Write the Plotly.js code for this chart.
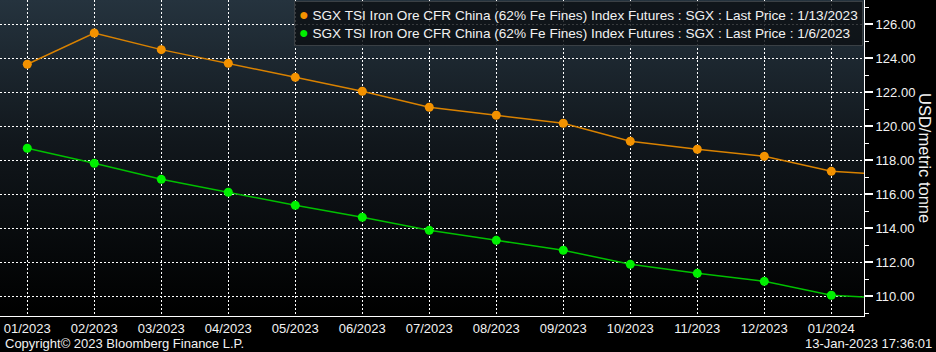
<!DOCTYPE html>
<html>
<head>
<meta charset="utf-8">
<script src="https://cdn.plot.ly/plotly-3.0.1.min.js"></script>
<style>
  html, body { margin:0; padding:0; background:#000; }
  #wrap { position:relative; width:936px; height:352px; background:#000; overflow:hidden; }
  #bg { position:absolute; left:0; top:0; width:864px; height:316px;
        background:linear-gradient(to bottom, #25333e 0%, #11171c 45%, #000 100%); }
  #chart { position:absolute; left:0; top:0; width:936px; height:352px; }
</style>
</head>
<body>
<div id="wrap"><div id="bg"></div><div id="chart"></div></div>
<script>
const months = ["01/2023","02/2023","03/2023","04/2023","05/2023","06/2023","07/2023",
                "08/2023","09/2023","10/2023","11/2023","12/2023","01/2024","02/2024"];
const price_0113 = [123.65,125.49,124.51,123.71,122.88,122.06,121.12,120.65,120.18,119.12,118.65,118.24,117.35,117.12];
const price_0106 = [118.71,117.82,116.88,116.12,115.35,114.65,113.88,113.29,112.71,111.88,111.35,110.88,110.06,109.85];
const seriesNames = [
  "SGX TSI Iron Ore CFR China (62% Fe Fines) Index Futures : SGX : Last Price : 1/13/2023",
  "SGX TSI Iron Ore CFR China (62% Fe Fines) Index Futures : SGX : Last Price : 1/6/2023"
];
const yTitle = "USD/metric tonne";
const copyright = "Copyright\u00A9 2023 Bloomberg Finance L.P.";
const stamp = "13-Jan-2023 17:36:01";

const FONT = "Liberation Sans, Arial, sans-serif";
const ORANGE = "#f39200", ORANGE_LINE = "#d98200";
const GREEN = "#00f000", GREEN_LINE = "#00c000";

const traces = [
  {x: months, y: price_0113, type:"scatter", mode:"lines+markers", name: seriesNames[0],
   line:{color:ORANGE_LINE, width:1.5}, marker:{color:ORANGE, size:9}, showlegend:false},
  {x: months, y: price_0106, type:"scatter", mode:"lines+markers", name: seriesNames[1],
   line:{color:GREEN_LINE, width:1.5}, marker:{color:GREEN, size:9}, showlegend:false}
];

const legendText =
  '<span style="color:' + ORANGE + ';font-size:16px">\u25CF</span> ' + seriesNames[0] + '<br>' +
  '<span style="color:' + GREEN + ';font-size:16px">\u25CF</span> ' + seriesNames[1];

const layout = {
  width:936, height:352,
  margin:{l:0, r:72, t:0, b:36, pad:0},
  paper_bgcolor:"rgba(0,0,0,0)", plot_bgcolor:"rgba(0,0,0,0)",
  font:{family:FONT, size:13, color:"#f2f2f2"},
  showlegend:false,
  xaxis:{
    type:"category", range:[-0.407, 12.488],
    showgrid:true, gridcolor:"#ffffff", gridwidth:1, griddash:"2px,2px",
    showline:true, linecolor:"#ffffff", linewidth:1,
    ticks:"", tickfont:{family:FONT, size:13, color:"#f2f2f2"},
    zeroline:false, fixedrange:true
  },
  yaxis:{
    side:"right", range:[108.84, 127.43],
    tick0:110, dtick:2, tickformat:".2f",
    showgrid:true, gridcolor:"#ffffff", gridwidth:1, griddash:"2px,2px",
    showline:true, linecolor:"#ffffff", linewidth:1,
    ticks:"outside", ticklen:8, tickwidth:2, tickcolor:"#ffffff",
    minor:{dtick:1, tick0:109, ticks:"outside", ticklen:4, tickwidth:1, tickcolor:"#ffffff", showgrid:false},
    tickfont:{family:FONT, size:13, color:"#f2f2f2"},
    zeroline:false, fixedrange:true
  },
  annotations:[
    {xref:"paper", yref:"paper", x:0.999, y:0.996, xanchor:"right", yanchor:"top",
     text: legendText, showarrow:false, align:"left",
     font:{family:FONT, size:13.6, color:"#f2f2f2"},
     bgcolor:"rgba(12,16,20,0.82)", bordercolor:"#3a4045", borderwidth:1, borderpad:4},
    {xref:"paper", yref:"paper", x:1, xshift:61, y:0.5, xanchor:"center", yanchor:"middle",
     text: yTitle, textangle:90, showarrow:false,
     font:{family:FONT, size:16.5, color:"#f2f2f2"}},
    {xref:"paper", yref:"paper", x:0, xshift:3, y:0, yshift:-27, xanchor:"left", yanchor:"middle",
     text: copyright, showarrow:false, font:{family:FONT, size:13, color:"#f2f2f2"}},
    {xref:"paper", yref:"paper", x:1, xshift:70, y:0, yshift:-27, xanchor:"right", yanchor:"middle",
     text: stamp, showarrow:false, font:{family:FONT, size:13, color:"#f2f2f2"}}
  ]
};

Plotly.newPlot("chart", traces, layout, {displayModeBar:false, staticPlot:true});
</script>
</body>
</html>
